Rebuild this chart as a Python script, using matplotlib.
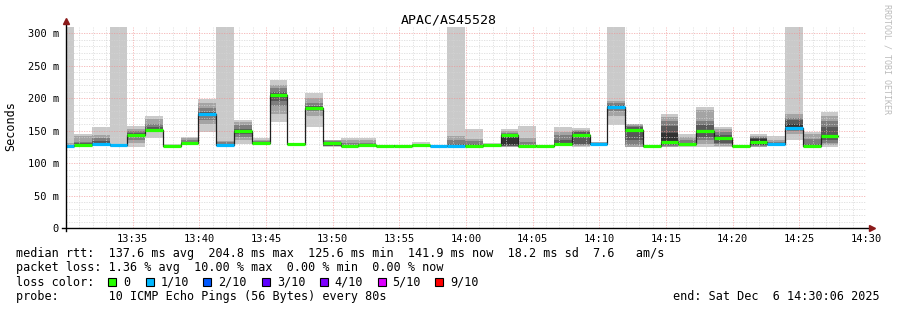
import matplotlib
matplotlib.use("Agg")
import matplotlib.pyplot as plt
from matplotlib.patches import Rectangle
import numpy as np

plt.rcParams['font.family'] = ['DejaVu Sans Mono']

# probe: 10 pings every 80 s, first sample ends at 13:30:36 (minutes after 13:30)
step_min = 80 / 60
first_end = 0.6
n = 44

# median rtt per sample (ms) and number of lost pings (of 10)
medians = [125.6, 128, 128.5, 127, 142.6, 151, 126, 131, 176, 128,
           149, 131, 204.8, 129, 184.5, 131.5, 126.5, 128, 126.5, 126.5,
           127.5, 126.5, 126.5, 126.5, 127.5, 142.5, 126.5, 126.5, 129, 142.5,
           130, 186, 151, 126.5, 133, 128.7, 149, 138, 125.6, 133,
           128.5, 154.5, 126.5, 141.9]
loss = [1, 0, 1, 1, 0, 0, 0, 0, 1, 1,
        0, 0, 0, 0, 0, 0, 0, 0, 0, 0,
        0, 1, 1, 0, 0, 0, 0, 0, 0, 0,
        1, 1, 0, 0, 0, 0, 0, 0, 0, 0,
        1, 1, 0, 0]

# sorted ping times per sample (smoke), 400 = beyond the graph
pings = [
    [124, 125, 125, 126, 126, 126, 127, 128, 131, 400],
    [125, 126, 127, 128, 128, 129, 131, 133, 141, 145],
    [126, 127, 128, 128, 129, 131, 134, 139, 143, 156],
    [125, 126, 126, 127, 127, 127, 128, 128, 129, 400],
    [125, 131, 136, 140, 142, 143, 146, 150, 153, 157],
    [139, 147, 149, 150, 151, 152, 156, 160, 167, 172],
    [124, 125, 125, 126, 126, 126, 127, 127, 128, 130],
    [128, 129, 130, 130, 131, 131, 133, 136, 138, 140],
    [147, 160, 166, 172, 175, 177, 179, 185, 192, 198],
    [126, 127, 128, 128, 128, 129, 130, 132, 134, 400],
    [129, 135, 140, 145, 149, 150, 153, 158, 163, 166],
    [127, 128, 129, 130, 131, 131, 132, 134, 136, 139],
    [163, 175, 187, 195, 204, 206, 210, 215, 220, 228],
    [127, 128, 128, 129, 129, 129, 130, 130, 131, 131],
    [156, 172, 180, 183, 184, 185, 188, 192, 200, 208],
    [125, 125.5, 126, 126.5, 127, 128, 132, 134, 135, 136],
    [124, 125, 126, 126, 126, 127, 128, 131, 135, 139],
    [125, 126, 127, 127, 128, 128, 129, 131, 135, 138],
    [125, 125, 126, 126, 126, 127, 127, 127, 127, 128],
    [125, 125, 126, 126, 126, 127, 127, 127, 127, 128],
    [126, 126, 127, 127, 127, 128, 128, 129, 130, 132],
    [125, 125, 126, 126, 126, 127, 127, 127, 128, 128],
    [124, 125, 126, 126, 127, 127, 130, 135, 141, 400],
    [124, 125, 126, 126, 126, 127, 130, 134, 137, 152],
    [126, 126, 127, 127, 127, 128, 128, 129, 130, 131],
    [124, 125, 126, 126, 127, 142, 144, 146, 149, 152],
    [124, 125, 126, 126, 126, 127, 128, 132, 139, 157],
    [125, 125, 126, 126, 126, 127, 127, 127, 128, 128],
    [126, 127, 128, 129, 129, 130, 136, 143, 148, 156],
    [125, 126, 128, 130, 140, 145, 147, 149, 151, 154],
    [128, 129, 129, 130, 130, 130, 131, 131, 132, 132],
    [158, 172, 180, 183, 185, 187, 190, 192, 195, 400],
    [124, 125, 128, 135, 148, 152, 155, 157, 160, 160],
    [125, 125, 126, 126, 126, 127, 127, 127, 128, 128],
    [124, 125, 126, 128, 131, 146, 157, 165, 171, 175],
    [124, 126, 127, 128, 128, 129, 131, 135, 140, 144],
    [124, 129, 135, 140, 147, 151, 158, 165, 181, 186],
    [124, 126, 129, 131, 136, 140, 143, 147, 152, 156],
    [124, 125, 125, 125, 125, 126, 126, 126, 127, 127],
    [124, 125, 126, 127, 128, 137, 139, 140, 142, 145],
    [126, 127, 128, 128, 128, 129, 130, 132, 136, 141.5],
    [136, 145, 150, 153, 156, 160, 166, 170, 175, 400],
    [124, 125, 126, 126, 126, 127, 130, 137, 144, 147],
    [124, 128, 131, 135, 140, 143, 155, 165, 172, 179],
]

loss_labels = ['0', '1/10', '2/10', '3/10', '4/10', '5/10', '9/10']
loss_colors = ['#26ff00', '#00b8ff', '#0059ff', '#5e00ff', '#7e00ff', '#dd00ff', '#ff0000']
smoke_colors = ['#cacaca', '#a4a4a4', '#7e7e7e', '#585858', '#323232']

x_ticks = list(range(5, 61, 5))
x_labels = ['13:35', '13:40', '13:45', '13:50', '13:55', '14:00',
            '14:05', '14:10', '14:15', '14:20', '14:25', '14:30']
y_ticks = [0, 50, 100, 150, 200, 250, 300]
y_labels = ['0', '50 m', '100 m', '150 m', '200 m', '250 m', '300 m']

W, H = 897, 310
fig = plt.figure(figsize=(W / 100, H / 100), dpi=100)
fig.patch.set_facecolor('white')
ax = fig.add_axes([66 / W, 1 - 228 / H, 800 / W, (228 - 27.3) / H])

ends = np.array([first_end + step_min * k for k in range(n)])
starts = ends - step_min
p = np.array(pings)

# smoke layers, outermost first
for i, c in enumerate(smoke_colors):
    lo = p[:, i]
    hi = p[:, 9 - i]
    ax.bar(starts, hi - lo, bottom=lo, width=step_min, align='edge',
           color=c, linewidth=0, zorder=1)

# median line
xs = np.append(starts, ends[-1])
ys = np.append(medians, medians[-1])
ax.plot(xs, ys, drawstyle='steps-post', color='#202020', lw=0.9, zorder=3)
seg_colors = [loss_colors[l] for l in loss]
ax.hlines(medians, starts, ends, colors=seg_colors, lw=2.3, zorder=4)

ax.set_xlim(0, 60)
ax.set_ylim(0, 308.8)
ax.set_xticks(x_ticks)
ax.set_xticklabels(x_labels)
ax.set_yticks(y_ticks)
ax.set_yticklabels(y_labels)
ax.set_xticks(np.arange(0, 61, 1), minor=True)
ax.set_yticks(np.arange(0, 310, 10), minor=True)
ax.tick_params(which='both', length=0)
ax.tick_params(axis='y', pad=5, labelsize=7.5)
ax.tick_params(axis='x', pad=4, labelsize=7.5)

ax.grid(which='minor', color='#d4d4d4', alpha=0.8, linestyle=(0, (1.5, 1.5)), lw=0.6, zorder=5)
ax.grid(which='major', color='#f09090', alpha=0.7, linestyle=(0, (1.5, 1.5)), lw=0.6, zorder=6)
ax.set_axisbelow(False)

for s in ['top', 'right', 'left', 'bottom']:
    ax.spines[s].set_visible(False)
# axes with arrows
ax.plot([0, 0], [-0.015, 1.025], transform=ax.transAxes, color='black', lw=1, clip_on=False, zorder=7)
ax.plot([-0.005, 1.006], [0, 0], transform=ax.transAxes, color='black', lw=1, clip_on=False, zorder=7)
ax.plot([0], [1.03], marker='^', ms=5, color='#8b1a1a', transform=ax.transAxes, clip_on=False, zorder=8)
ax.plot([1.007], [0], marker='>', ms=5, color='#8b1a1a', transform=ax.transAxes, clip_on=False, zorder=8)

def fx(px):
    return px / W

def fy(py):
    return 1 - py / H

fig.text(0.5, fy(20), 'APAC/AS45528', ha='center', va='center', fontsize=9.5)
fig.text(fx(11), fy(126), 'Seconds', rotation=90, ha='center', va='center', fontsize=8.5)
fig.text(fx(887), fy(4), 'RRDTOOL / TOBI OETIKER', rotation=270, ha='center', va='top',
         fontsize=6, color='#bbbbbb')

fs = 8.5
fig.text(fx(16), fy(254), 'median rtt:  137.6 ms avg  204.8 ms max  125.6 ms min  141.9 ms now  18.2 ms sd  7.6   am/s',
         va='center', fontsize=fs)
fig.text(fx(16), fy(268), 'packet loss: 1.36 % avg  10.00 % max  0.00 % min  0.00 % now',
         va='center', fontsize=fs)
fig.text(fx(16), fy(282), 'loss color:', va='center', fontsize=fs)
box_x = [108.3, 145.7, 203.3, 261.7, 319.6, 377.5, 435.4]
for bx, lab, col in zip(box_x, loss_labels, loss_colors):
    fig.add_artist(Rectangle((fx(bx), fy(286)), 8 / W, 8 / H, transform=fig.transFigure,
                             facecolor=col, edgecolor='black', lw=0.8))
    fig.text(fx(bx + 15), fy(282), lab, va='center', fontsize=fs)
fig.text(fx(16), fy(296.5), 'probe:       10 ICMP Echo Pings (56 Bytes) every 80s',
         va='center', fontsize=fs)
fig.text(fx(880), fy(296.5), 'end: Sat Dec  6 14:30:06 2025', ha='right', va='center', fontsize=fs)

fig.savefig('out.png', dpi=100)
